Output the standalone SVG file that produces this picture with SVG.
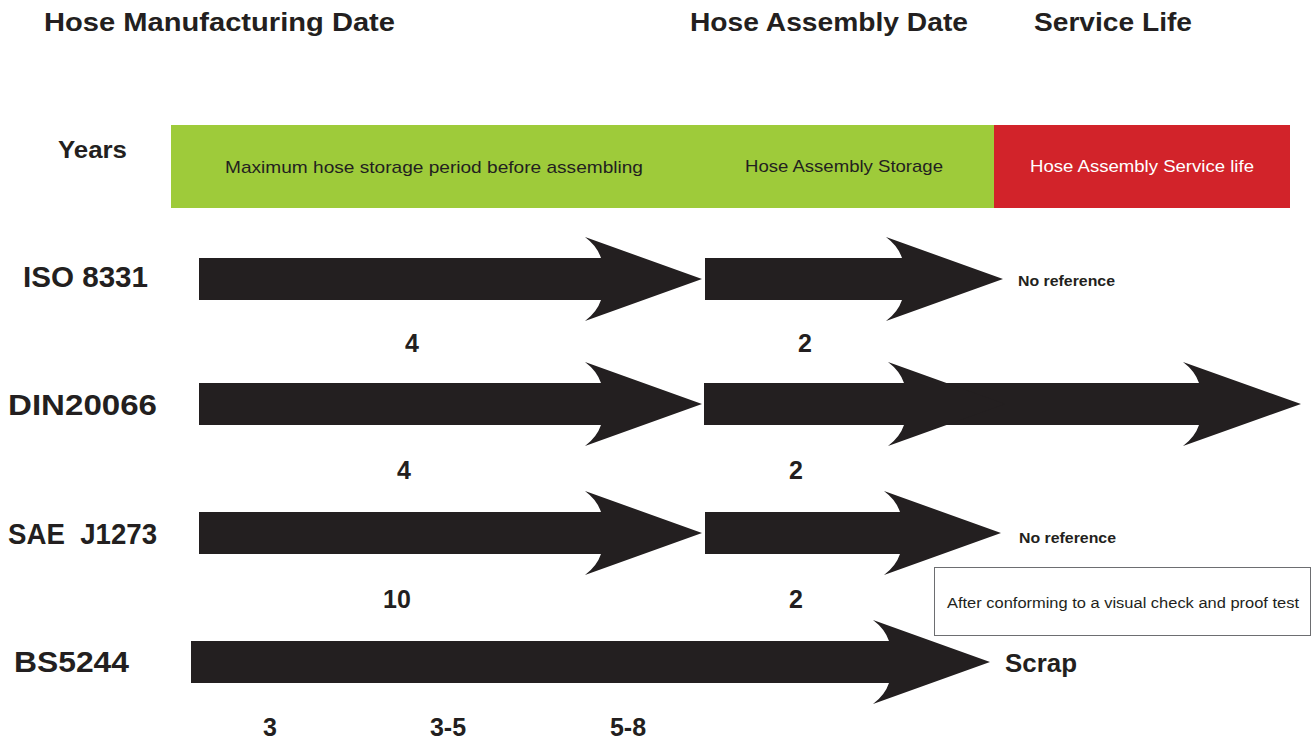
<svg xmlns="http://www.w3.org/2000/svg" width="1314" height="742" viewBox="0 0 1314 742">
<style>
text{font-family:"Liberation Sans","DejaVu Sans",sans-serif;fill:#231F20}
.title{font-size:26px;font-weight:bold}
.row{font-size:29px;font-weight:bold}
.num{font-size:25px;font-weight:bold;text-anchor:middle}
.band{font-size:17px}
.note{font-size:14px;font-weight:bold}
.arrow{fill:#231F20}
</style>
<rect width="1314" height="742" fill="#FFFFFF"/>
<g id="headers">
<text class="title" x="44" y="31" textLength="351" lengthAdjust="spacingAndGlyphs">Hose Manufacturing Date</text>
<text class="title" x="690" y="31" textLength="278" lengthAdjust="spacingAndGlyphs">Hose Assembly Date</text>
<text class="title" x="1034" y="31" textLength="158" lengthAdjust="spacingAndGlyphs">Service Life</text>
</g>
<g id="years"><text x="58" y="158" style="font-size:24px;font-weight:bold" textLength="69" lengthAdjust="spacingAndGlyphs">Years</text></g>
<g id="band-storage">
<rect x="171" y="125" width="823" height="83" fill="#9ECB3A"/>
<text class="band" x="225" y="173" textLength="418" lengthAdjust="spacingAndGlyphs">Maximum hose storage period before assembling</text>
<text class="band" x="745" y="172" textLength="198" lengthAdjust="spacingAndGlyphs">Hose Assembly Storage</text>
</g>
<g id="band-service">
<rect x="994" y="125" width="296" height="83" fill="#D2232A"/>
<text class="band" x="1030" y="172" textLength="224" lengthAdjust="spacingAndGlyphs" style="fill:#FFFFFF">Hose Assembly Service life</text>
</g>
<g id="row-iso">
<text class="row" x="23" y="287" textLength="125" lengthAdjust="spacingAndGlyphs">ISO 8331</text>
<text class="num" x="412" y="352">4</text>
<text class="num" x="805" y="352">2</text>
<text class="note" x="1018" y="286" textLength="97" lengthAdjust="spacingAndGlyphs">No reference</text>
</g>
<g id="row-din">
<text class="row" x="8" y="415" textLength="149" lengthAdjust="spacingAndGlyphs">DIN20066</text>
<text class="num" x="404" y="479">4</text>
<text class="num" x="796" y="479">2</text>
</g>
<g id="row-sae">
<text class="row" x="8" y="544" textLength="149" lengthAdjust="spacingAndGlyphs" xml:space="preserve">SAE  J1273</text>
<text class="num" x="397" y="608">10</text>
<text class="num" x="796" y="608">2</text>
<text class="note" x="1019" y="543" textLength="97" lengthAdjust="spacingAndGlyphs">No reference</text>
</g>
<g id="note-box">
<rect x="934.5" y="567.5" width="376" height="68" fill="#FFFFFF" stroke="#6D6E71" stroke-width="1"/>
<text x="947" y="608" style="font-size:14px" textLength="352" lengthAdjust="spacingAndGlyphs">After conforming to a visual check and proof test</text>
</g>
<g id="row-bs">
<text class="row" x="14" y="672" textLength="115" lengthAdjust="spacingAndGlyphs">BS5244</text>
<text class="num" x="270" y="736">3</text>
<text class="num" x="448" y="736">3-5</text>
<text class="num" x="628" y="736">5-8</text>
<text x="1005" y="672" style="font-size:25px;font-weight:bold" textLength="72" lengthAdjust="spacingAndGlyphs">Scrap</text>
</g>
<g id="connectors">
<!-- ISO 8331 -->
<path class="arrow" d="M199,258 H601 Q597,246 585,237 L702,279 L585,321 Q597,312 601,300 H199 Z"/>
<path class="arrow" d="M705,258 H902 Q898,246 886,237 L1003,279 L886,321 Q898,312 902,300 H705 Z"/>
<!-- DIN20066 -->
<path class="arrow" d="M199,383 H601 Q597,371 585,362 L702,404 L585,446 Q597,437 601,425 H199 Z"/>
<path class="arrow" d="M704,383 H1199 Q1195,371 1183,362 L1301,404 L1183,446 Q1195,437 1199,425 H704 Z"/>
<path class="arrow" d="M888,362 L1005,404 L888,446 Q900,437 904,425 V383 Q900,371 888,362 Z"/>
<!-- SAE J1273 -->
<path class="arrow" d="M199,512 H601 Q597,500 585,491 L702,533 L585,575 Q597,566 601,554 H199 Z"/>
<path class="arrow" d="M705,512 H900 Q896,500 884,491 L1001,533 L884,575 Q896,566 900,554 H705 Z"/>
<!-- BS5244 -->
<path class="arrow" d="M191,641 H889 Q885,629 873,620 L990,662 L873,704 Q885,695 889,683 H191 Z"/>
</g>
</svg>
